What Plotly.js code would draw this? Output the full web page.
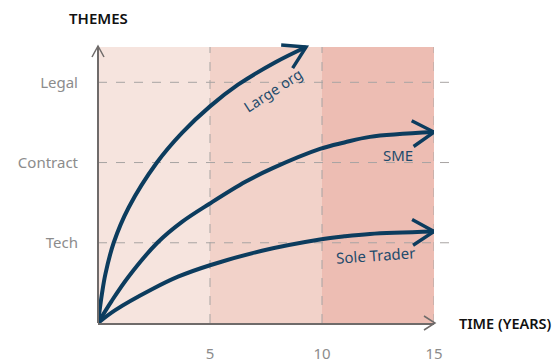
<!DOCTYPE html>
<html>
<head>
<meta charset="utf-8">
<script src="https://cdn.plot.ly/plotly-3.0.1.min.js"></script>
<style>html,body{margin:0;padding:0;background:#fff;}#chart{width:559px;height:363px;}</style>
</head>
<body>
<div id="chart"></div>
<script>
// ---- data ----
const xTicks = [5, 10, 15];
const yTickVals = [1, 2, 3];
const yTickText = ['Tech', 'Contract', 'Legal'];
const bandEdges = [0, 5, 10, 15];
const bandTop = 3.44;

const largeX = [0, 0.18, 0.33, 0.70, 1.37, 2.63, 3.75, 5.0, 6.25, 7.92, 9.29];
const largeY = [0, 0.37, 0.61, 1.0, 1.44, 2.0, 2.37, 2.70, 2.97, 3.25, 3.44];

const smeX = [0, 0.6, 1.37, 2.65, 3.75, 5.0, 6.58, 7.8, 9.91, 11.0, 12.14, 15];
const smeY = [0, 0.27, 0.58, 1.0, 1.26, 1.49, 1.76, 1.93, 2.17, 2.25, 2.32, 2.38];

const soleX = [0, 0.77, 2.41, 3.6, 5.0, 7.32, 9.91, 11.0, 12.14, 15];
const soleY = [0, 0.16, 0.42, 0.58, 0.72, 0.90, 1.04, 1.08, 1.11, 1.14];

const seriesNames = ['Large org', 'SME', 'Sole Trader'];
const labelX = [7.8, 13.41, 12.41];
const labelY = [2.90, 2.09, 0.85];
const labelAngle = [-33, 0, -4];

// ---- layout geometry ----
const W = 559, H = 363;
const M = {l: 98, r: 125, t: 37, b: 40};
const pw = W - M.l - M.r, ph = H - M.t - M.b;
const sx = pw / 15;
const sy = 80.23;
const xRange = [0, 15];
const yRange = [0, ph / sy];
const topPaper = bandTop / yRange[1];

const NAVY = '#0c3c5e';
const AXIS = '#6f6b6a';
const GRID = '#a8a4a3';
const bandColors = ['#f6e4de', '#f2d2c9', '#edbdb3'];

function chevron(xs, ys, len, halfDeg) {
  const n = xs.length;
  const xt = xs[n-1], yt = ys[n-1];
  let dx = (xt - xs[n-2]) * sx, dy = (yt - ys[n-2]) * sy;
  const L = Math.hypot(dx, dy); dx /= L; dy /= L;
  const a = halfDeg * Math.PI / 180;
  const pts = [];
  [a, -a].forEach(ang => {
    const bx = -dx, by = -dy;
    const rx = bx * Math.cos(ang) - by * Math.sin(ang);
    const ry = bx * Math.sin(ang) + by * Math.cos(ang);
    pts.push([xt + rx * len / sx, yt + ry * len / sy]);
  });
  return {x: [pts[0][0], xt, pts[1][0]], y: [pts[0][1], yt, pts[1][1]]};
}

const curves = [[largeX, largeY], [smeX, smeY], [soleX, soleY]];
const traces = [];
curves.forEach(([xs, ys], i) => {
  traces.push({
    x: xs, y: ys, mode: 'lines', name: seriesNames[i],
    line: {color: NAVY, width: 4, shape: 'spline', smoothing: 1},
    hoverinfo: 'skip', showlegend: false
  });
  const c = chevron(xs, ys, 25, 31);
  traces.push({
    x: c.x, y: c.y, mode: 'lines',
    line: {color: NAVY, width: 3.4}, hoverinfo: 'skip', showlegend: false
  });
});

// all background shapes use a paper reference so they share one layer, in order
const shapes = [];
for (let i = 0; i < bandEdges.length - 1; i++) {
  shapes.push({type: 'rect', xref: 'x', yref: 'paper', x0: bandEdges[i], x1: bandEdges[i+1],
    y0: 0, y1: topPaper, fillcolor: bandColors[i], line: {width: 0}, layer: 'below'});
}
xTicks.forEach(v => shapes.push({type: 'line', xref: 'x', yref: 'paper', x0: v, x1: v, y0: 0, y1: topPaper,
  line: {color: GRID, width: 1, dash: 'dash'}, layer: 'below'}));
yTickVals.forEach(v => shapes.push({type: 'line', xref: 'paper', yref: 'y', x0: 0, x1: 1.0625, y0: v, y1: v,
  line: {color: GRID, width: 1, dash: 'dash'}, layer: 'below'}));
// y axis line and axis arrowheads
shapes.push({type: 'line', xref: 'paper', yref: 'paper', x0: 0, x1: 0, y0: 0, y1: topPaper + 1/ph,
  line: {color: AXIS, width: 2}});
shapes.push({type: 'path', xref: 'paper', yref: 'paper',
  path: `M ${1 - 10/pw} ${7/ph} L ${1 + 1/pw} 0 L ${1 - 10/pw} ${-7/ph}`,
  line: {color: AXIS, width: 1.5}});
shapes.push({type: 'path', xref: 'paper', yref: 'paper',
  path: `M ${-6/pw} ${topPaper - 10/ph} L 0 ${topPaper + 1/ph} L ${6/pw} ${topPaper - 10/ph}`,
  line: {color: AXIS, width: 1.5}});

const FONT = 'Noto Sans, Open Sans, sans-serif';
const annotations = seriesNames.map((n, i) => ({
  x: labelX[i], y: labelY[i], xref: 'x', yref: 'y', text: n, showarrow: false,
  textangle: labelAngle[i], font: {family: FONT, size: i === 0 ? 14.5 : 15, color: '#1e4b6c'}
}));
annotations.push({xref: 'paper', yref: 'paper', x: 0.5 / pw, y: (H - M.b - 18) / ph,
  text: 'THEMES', showarrow: false, xanchor: 'center', yanchor: 'middle',
  font: {family: FONT, size: 15, color: '#111', weight: 600}});
annotations.push({xref: 'paper', yref: 'paper', x: (457 - M.l) / pw, y: 0,
  text: 'TIME (YEARS)', showarrow: false, xanchor: 'left', yanchor: 'middle',
  font: {family: FONT, size: 14.5, color: '#111', weight: 600}});

const layout = {
  width: W, height: H, margin: M,
  paper_bgcolor: '#fff', plot_bgcolor: 'rgba(0,0,0,0)',
  showlegend: false,
  xaxis: {range: xRange, tickvals: xTicks, ticks: '', showgrid: false, zeroline: false,
    showline: true, linecolor: AXIS, linewidth: 2, ticklabelstandoff: 16,
    tickfont: {family: FONT, size: 15, color: '#8c8c8c'}, fixedrange: true},
  yaxis: {range: yRange, tickvals: yTickVals, ticktext: yTickText, ticks: '', showgrid: false,
    zeroline: false, showline: false, ticklabelstandoff: 19,
    tickfont: {family: FONT, size: 15, color: '#8c8c8c'}, fixedrange: true},
  shapes: shapes, annotations: annotations
};

Plotly.newPlot('chart', traces, layout, {displayModeBar: false, staticPlot: true});
</script>
</body>
</html>
